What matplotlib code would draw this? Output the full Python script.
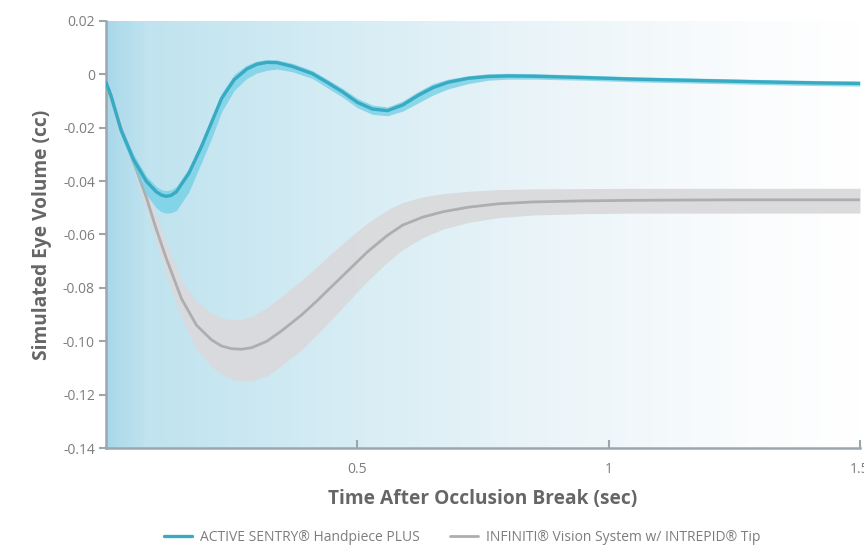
import numpy as np
import matplotlib
matplotlib.use("Agg")
import matplotlib.pyplot as plt
from matplotlib.colors import LinearSegmentedColormap

plt.rcParams['font.family'] = ['Open Sans', 'DejaVu Sans']

# ACTIVE SENTRY (blue) - time, centre, band low, band high
t_as = [0.0, 0.01, 0.03, 0.055, 0.08, 0.10, 0.11, 0.12, 0.13, 0.14, 0.165, 0.19, 0.21, 0.23, 0.255,
        0.28, 0.30, 0.32, 0.34, 0.37, 0.41, 0.44, 0.47, 0.50, 0.53, 0.56, 0.59, 0.62,
        0.65, 0.68, 0.72, 0.76, 0.80, 0.85, 0.95, 1.05, 1.15, 1.25, 1.35, 1.45, 1.5]
y_as = [-0.003, -0.008, -0.021, -0.032, -0.040, -0.0440, -0.0452, -0.0457, -0.0453, -0.0440,
        -0.037, -0.027,
        -0.018, -0.009, -0.002, 0.002, 0.0038, 0.0045, 0.0044, 0.0030, 0.0003, -0.003,
        -0.0065, -0.0105, -0.0130, -0.0136, -0.0115, -0.0080, -0.0050, -0.0030, -0.0015,
        -0.0008, -0.0006, -0.0007, -0.0012, -0.0018, -0.0022, -0.0026, -0.0030, -0.0033, -0.0034]
lo_as = [-0.003, -0.009, -0.023, -0.035, -0.045, -0.0500, -0.0515, -0.0520, -0.0518, -0.0510,
         -0.044, -0.033,
         -0.024, -0.014, -0.006, -0.0015, 0.0005, 0.0015, 0.0020, 0.0010, -0.0015, -0.0050,
         -0.0085, -0.0125, -0.0150, -0.0155, -0.0138, -0.0108, -0.0078, -0.0055, -0.0035,
         -0.0022, -0.0018, -0.0018, -0.0022, -0.0028, -0.0032, -0.0036, -0.0040, -0.0043, -0.0044]
hi_as = [-0.003, -0.007, -0.019, -0.030, -0.038, -0.0420, -0.0432, -0.0436, -0.0432, -0.0420,
         -0.035, -0.025,
         -0.016, -0.007, 0.000, 0.0035, 0.0050, 0.0055, 0.0054, 0.0042, 0.0015, -0.0018,
         -0.0052, -0.0090, -0.0115, -0.0122, -0.0100, -0.0065, -0.0035, -0.0018, -0.0005,
         0.0002, 0.0004, 0.0003, -0.0003, -0.0009, -0.0013, -0.0017, -0.0021, -0.0024, -0.0025]

# INFINITI w/ INTREPID tip (gray)
t_inf = [0.0, 0.01, 0.03, 0.055, 0.08, 0.10, 0.12, 0.15, 0.18, 0.21, 0.23, 0.25, 0.27, 0.29,
         0.32, 0.35, 0.39, 0.42, 0.45, 0.49, 0.52, 0.56, 0.59, 0.63, 0.67, 0.72, 0.78, 0.85,
         0.95, 1.05, 1.15, 1.25, 1.35, 1.45, 1.5]
y_inf = [-0.003, -0.009, -0.020, -0.033, -0.046, -0.058, -0.069, -0.084, -0.094, -0.0995,
         -0.1018, -0.1028, -0.1030, -0.1024, -0.1000, -0.0960, -0.0900, -0.0848, -0.0793,
         -0.0720, -0.0665, -0.0603, -0.0565, -0.0535, -0.0515, -0.0498, -0.0485, -0.0478,
         -0.0474, -0.0472, -0.0471, -0.0470, -0.0470, -0.0470, -0.0470]
lo_inf = [-0.003, -0.010, -0.022, -0.036, -0.050, -0.063, -0.075, -0.091, -0.103, -0.1095,
          -0.1125, -0.1143, -0.1150, -0.1148, -0.1130, -0.1090, -0.1030, -0.0975, -0.0915,
          -0.0835, -0.0775, -0.0703, -0.0657, -0.0612, -0.0580, -0.0555, -0.0537, -0.0527,
          -0.0522, -0.0520, -0.0520, -0.0520, -0.0520, -0.0520, -0.0520]
hi_inf = [-0.003, -0.008, -0.018, -0.030, -0.042, -0.053, -0.063, -0.077, -0.085, -0.0895,
          -0.0912, -0.0920, -0.0918, -0.0906, -0.0875, -0.0830, -0.0770, -0.0720, -0.0668,
          -0.0603, -0.0557, -0.0507, -0.0480, -0.0459, -0.0447, -0.0438, -0.0432, -0.0429,
          -0.0428, -0.0427, -0.0427, -0.0427, -0.0427, -0.0427, -0.0427]

x_ticks = [0.5, 1, 1.5]
x_tick_labels = ['0.5', '1', '1.5']
y_ticks = [0.02, 0, -0.02, -0.04, -0.06, -0.08, -0.10, -0.12, -0.14]
y_tick_labels = ['0.02', '0', '-0.02', '-0.04', '-0.06', '-0.08', '-0.10', '-0.12', '-0.14']

blue = '#38abc3'
blue_band = '#6fcfe6'
gray = '#aeaeb0'
gray_band = '#dadadc'
text_gray = '#7d7d7d'
spine_col = '#9aa8ae'

fig = plt.figure(figsize=(8.64, 5.52), dpi=100)
ax = fig.add_axes([0.1227, 0.1884, 0.8727, 0.7736])

# background gradient, blue on the left fading to white
cmap = LinearSegmentedColormap.from_list(
    'bg', [(0.0, '#a9d8ea'), (0.05, '#bfe3ef'), (0.3, '#d5ecf4'),
           (0.6, '#ecf5f9'), (0.85, '#fafcfd'), (1.0, '#ffffff')])
grad = np.linspace(0, 1, 512).reshape(1, -1)
ax.imshow(grad, extent=[0, 1.5, -0.14, 0.02], aspect='auto', cmap=cmap,
          zorder=0, interpolation='bicubic')

ax.fill_between(t_inf, lo_inf, hi_inf, color=gray_band, alpha=0.95, lw=0, zorder=2)
ax.plot(t_inf, y_inf, color=gray, lw=2.0, zorder=3, solid_capstyle='round',
        solid_joinstyle='round',
        label='INFINITI\u00ae Vision System w/ INTREPID\u00ae Tip')
ax.fill_between(t_as, lo_as, hi_as, color=blue_band, alpha=0.75, lw=0, zorder=4)
ax.plot(t_as, y_as, color=blue, lw=2.4, zorder=5, solid_capstyle='round',
        solid_joinstyle='round',
        label='ACTIVE SENTRY\u00ae Handpiece PLUS')

ax.set_xlim(0, 1.5)
ax.set_ylim(-0.14, 0.02)
ax.set_xticks(x_ticks)
ax.set_xticklabels(x_tick_labels)
ax.set_yticks(y_ticks)
ax.set_yticklabels(y_tick_labels)

for s in ['top', 'right']:
    ax.spines[s].set_visible(False)
for s in ['left', 'bottom']:
    ax.spines[s].set_color(spine_col)
    ax.spines[s].set_linewidth(1.8)

ax.tick_params(axis='y', direction='out', length=5, width=1.5, color=spine_col,
               labelsize=10, labelcolor=text_gray, pad=3)
ax.tick_params(axis='x', direction='in', length=6, width=1.5, color=spine_col,
               labelsize=10, labelcolor=text_gray, pad=10)

ax.set_xlabel('Time After Occlusion Break (sec)', fontsize=13.8, fontweight='bold',
              color='#666666', labelpad=9)
ax.set_ylabel('Simulated Eye Volume (cc)', fontsize=13.8, fontweight='bold',
              color='#666666', labelpad=8)

handles, labels = ax.get_legend_handles_labels()
leg = fig.legend(handles[::-1], labels[::-1], loc='lower center', ncol=2,
                 bbox_to_anchor=(0.535, -0.01), frameon=False, fontsize=10,
                 handlelength=2.0, columnspacing=2.2, handletextpad=0.6)
for txt in leg.get_texts():
    txt.set_color(text_gray)

fig.savefig('out.png', dpi=100)
